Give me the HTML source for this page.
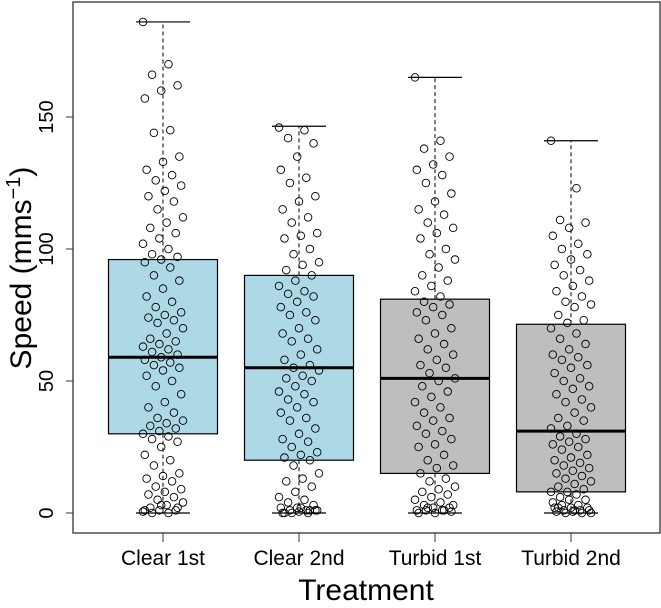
<!DOCTYPE html>
<html><head><meta charset="utf-8"><style>
body{margin:0;background:#fff}
svg text{font-family:"Liberation Sans",Arial,sans-serif;fill:#000}
</style></head><body>
<svg id="chart" width="661" height="603" viewBox="0 0 661 603" xmlns="http://www.w3.org/2000/svg"></svg>
<script>
const categories=["Clear 1st","Clear 2nd","Turbid 1st","Turbid 2nd"];
const boxFill=["#add8e6","#add8e6","#bebebe","#bebebe"];
const q1=[30,20,15,8];
const medians=[59,55,51,31];
const q3=[96,90,81,71.5];
const whiskMin=[0,0,0,0];
const whiskMax=[186,146.5,165,141];
const yTicks=[0,50,100,150];
const pts0=[186,170,166,162,160,157,145,144,135,133,130,128,126,124,122,120,118,115,112,110,108,106,104,102,100,98,97,96,95,93,90,88,85,82,80,78,76,75,74,73,72,70,68,66,65,64,63,62,61,60,59,58,57,56,55,54,52,50,48,45,42,40,38,36,35,34,33,32,31,30,29,28,27,25,22,20,18,15,14,13,12,10,9,8,7,6,5,4,3,2,1,1,0.5,0,0,2,3,1];
const pts1=[146,145,142,140,135,130,127,125,120,118,115,112,110,106,105,104,100,98,95,94,92,90,88,86,84,83,82,80,78,76,75,73,70,68,66,65,62,60,58,56,55,54,52,51,50,48,46,45,43,42,40,38,36,35,32,30,28,27,25,23,22,21,20,18,15,13,12,10,8,6,5,4,3,2,2,1,1,1,0.5,0,0,0,1,2,0,1];
const pts2=[165,141,138,135,132,130,128,125,121,118,115,113,110,108,106,104,100,98,96,93,90,88,86,84,82,80,79,78,76,75,73,70,68,66,64,62,60,58,56,55,53,51,50,48,46,44,42,40,38,36,35,33,31,30,28,26,25,22,20,18,17,15,13,12,10,9,8,7,6,5,4,3,2,2,1,1,1,0.5,0,0,1,2,3];
const pts3=[141,123,111,110,108,105,102,100,98,96,94,92,90,88,86,84,82,80,79,78,75,73,72,70,68,66,64,62,60,59,58,56,55,53,51,50,48,47,45,43,42,40,38,36,35,33,32,30,29,28,27,26,25,24,22,21,20,19,18,17,16,15,14,13,12,11,10,9,8,8,7,6,5,5,4,3,3,2,2,2,1,1,1,0.5,0.5,0,0,0,1,2];
const points=[pts0,pts1,pts2,pts3];

const svg=document.getElementById('chart');
const NS='http://www.w3.org/2000/svg';
const L=73,R=660,T=2,B=533;
const y=v=>513-v*(396/150);
const x=i=>163+i*136;
const bw=109, cap=27;
function mk(tag,attrs,parent){const e=document.createElementNS(NS,tag);for(const k in attrs)e.setAttribute(k,attrs[k]);(parent||svg).appendChild(e);return e;}

categories.forEach((c,i)=>{
  const cx=x(i);
  const g=mk('g',{});
  
  
  mk('line',{x1:cx,x2:cx,y1:y(q3[i]),y2:y(whiskMax[i]),stroke:'#000','stroke-dasharray':'4,3','stroke-width':1},g);
  mk('line',{x1:cx,x2:cx,y1:y(q1[i]),y2:y(whiskMin[i]),stroke:'#000','stroke-dasharray':'4,3','stroke-width':1},g);
  mk('line',{x1:cx-cap,x2:cx+cap,y1:y(whiskMax[i]),y2:y(whiskMax[i]),stroke:'#000','stroke-width':1.2},g);
  mk('line',{x1:cx-cap,x2:cx+cap,y1:y(whiskMin[i]),y2:y(whiskMin[i]),stroke:'#000','stroke-width':1.2},g);
  mk('rect',{x:cx-bw/2,y:y(q3[i]),width:bw,height:y(q1[i])-y(q3[i]),fill:boxFill[i],stroke:'#000','stroke-width':1.2},g);
  mk('line',{x1:cx-bw/2,x2:cx+bw/2,y1:y(medians[i]),y2:y(medians[i]),stroke:'#000','stroke-width':3},g);
});
points.forEach((arr,i)=>{
  arr.forEach((v,j)=>{
    const off=(((j*37)%23)-11)/11*20;
    const p=mk('circle',{cx:x(i)+off,cy:y(v),r:3.8,fill:'none',stroke:'#000','stroke-width':0.9});
    
    
  });
});
const frame=mk('rect',{x:L,y:T,width:R-L,height:B-T,fill:'none',stroke:'#333','stroke-width':1.3});


yTicks.forEach(t=>{
  mk('line',{x1:L-7,x2:L,y1:y(t),y2:y(t),stroke:'#333'});
  const tx=mk('text',{x:53,y:y(t),'font-size':20,'text-anchor':'middle',transform:`rotate(-90 53 ${y(t)})`});
  tx.textContent=t;
  
  
});
categories.forEach((c,i)=>{
  mk('line',{x1:x(i),x2:x(i),y1:B,y2:B+9,stroke:'#333'});
  const tx=mk('text',{x:x(i),y:565,'font-size':21,'text-anchor':'middle'});
  tx.textContent=c;
  
  
});
const xt=mk('text',{x:366,y:600,'font-size':30,'text-anchor':'middle'});
xt.textContent='Treatment';


const yt=mk('text',{x:31,y:268,'font-size':30,'text-anchor':'middle',transform:'rotate(-90 31 268)'});
yt.innerHTML='Speed (mms<tspan dy="-11" font-size="20">−1</tspan><tspan dy="11">)</tspan>';


</script>
</body></html>
